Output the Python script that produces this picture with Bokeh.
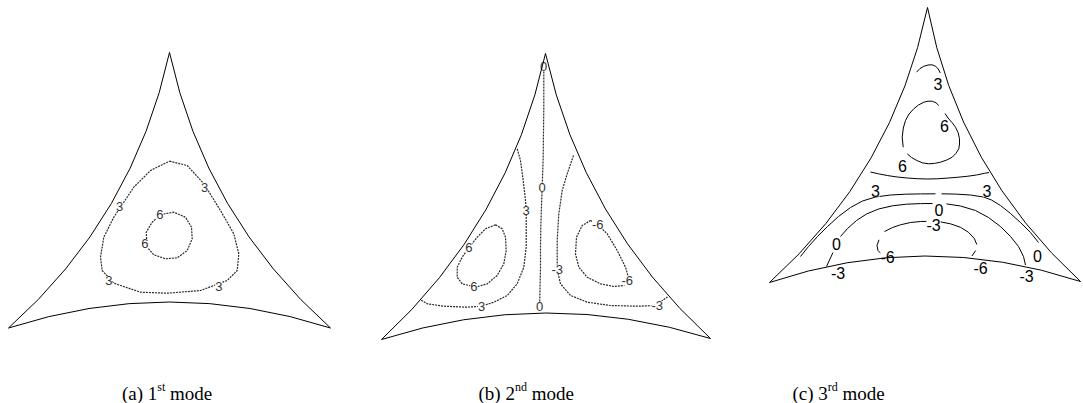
from bokeh.plotting import figure
from bokeh.models import Range1d
from bokeh.core.properties import value
from bokeh.embed import file_html
from bokeh.resources import INLINE

# ---- plate geometry: corners of each curved triangle and the sag of its edges
apex_x = [169, 545, 927]
apex_y = [52, 53, 7]
left_x = [8, 381, 769]
left_y = [327.5, 339, 282]
right_x = [330, 710, 1080]
right_y = [327.5, 338, 281]
edge_sag = [26, 26, 26]

# ---- (a) 1st mode contour lines
a_ring3 = [(169, 160.7), (186.7, 165), (203.3, 183.3), (220, 210), (233.3, 233.3),
           (238.3, 253.3), (236.7, 270), (226.7, 280), (200, 290), (166.7, 292.7),
           (140, 291.7), (113.3, 282.7), (101.7, 270), (100, 256.7), (103.3, 236.7),
           (113.3, 216.7), (133.3, 186.7), (150, 170), (169, 160.7)]
a_ring6 = [(160, 214), (173.3, 211.7), (185, 216.7), (191, 226.7), (191.7, 238.3),
           (186.7, 250), (176.7, 257.3), (165, 258.3), (153.3, 254.3), (146.7, 246.7),
           (145.7, 231.7), (151.7, 221.7), (160, 214)]
a_label_text = ["3", "3", "3", "3", "6", "6"]
a_label_x = [204, 119, 108.3, 218.3, 159.3, 144.3]
a_label_y = [186.7, 205.7, 280, 285.7, 214.3, 243.3]

# ---- (b) 2nd mode contour lines
b_zero = [(543.3, 68), (543.3, 80), (543.3, 106.7), (543, 130), (542.7, 156.7),
          (541.7, 186.7), (541, 205), (540.3, 226.7), (540, 246), (540, 266.7),
          (539.5, 288), (539, 311)]
b_left3 = [(516.7, 148.3), (520, 160), (522.7, 180), (525, 200), (525.7, 210),
           (525.7, 226.7), (525.7, 246.7), (523.3, 266.7), (516.7, 283.3), (506.7, 295),
           (493.3, 301.7), (480.7, 305.7), (466.7, 306.7), (443.3, 305.7), (426.7, 303.3),
           (420.5, 299.5)]
b_left6 = [(495, 224.3), (501.7, 228.3), (505, 236.7), (505.7, 250), (503.3, 263.3),
           (496.7, 275), (486.7, 283.3), (475, 286.7), (461.7, 283.3), (456.7, 276.7),
           (456.7, 266.7), (461.7, 256.7), (468.3, 247.3), (476.7, 236.7), (485, 228.3),
           (495, 224.3)]
b_right3 = [(573, 155), (566.7, 173.3), (561.7, 190), (558.3, 213.3), (556.7, 240),
            (556.7, 269.3), (560, 283.3), (570, 295), (586.7, 301.7), (610, 305),
            (636.7, 305.7), (656.7, 305), (662, 300), (667, 296.5)]
b_right6 = [(590, 220), (597.3, 224.3), (606.7, 233.3), (616.7, 250), (625, 266.7),
            (628.3, 278.3), (623.3, 285), (613.3, 286), (600, 283.3), (586.7, 276.7),
            (578.3, 266.7), (575, 253.3), (576, 236.7), (581.7, 225), (590, 220)]
b_label_text = ["0", "0", "0", "3", "3", "6", "6", "-3", "-3", "-6", "-6"]
b_label_x = [543, 541.7, 539, 525.7, 481, 468.3, 473.3, 556.7, 656.7, 597.3, 626.7]
b_label_y = [66, 186.7, 306, 210, 305.7, 247.3, 286, 269.3, 305, 224.3, 280]

# ---- (c) 3rd mode contour lines (drawn as broken strokes)
c_top3 = [(916, 71.7), (919.5, 68), (923.3, 65.8), (927.5, 64.5), (931.7, 64.3),
          (935.2, 65.8), (937.8, 68.5), (939.8, 72.5)]
c_loop6_upper = [(902.7, 146.7), (901.7, 136.7), (902.8, 127.5), (905, 120), (908.5, 113.5),
                 (913.3, 108.3), (918, 104.5), (923.3, 101.7), (927.5, 100.7), (931.7, 100.7),
                 (935.5, 102.3), (938.3, 105)]
c_loop6_lower = [(944.5, 113), (947.5, 117.5), (951.5, 122), (955, 126.7), (957.7, 132.3),
                 (959, 138.3), (959, 143.5), (958.3, 148.3), (955.5, 152.8), (951.7, 156.7),
                 (946, 159.6), (940, 161.7), (934, 162.9), (928.3, 163.3), (922, 162.4),
                 (916.7, 160.2), (911, 157), (906.7, 153.3)]
c_line6 = [(870, 171.5), (878, 173.3), (886.7, 175), (896.7, 176.5), (906.7, 177.5),
           (916.7, 178.2), (926.7, 178.5), (936.7, 178.3), (946.7, 177.6), (956.7, 176.8),
           (966.7, 175.8), (976, 174.5), (984, 172.8), (988.5, 172)]
c_line3_left = [(800, 256), (808, 246), (817, 236), (827, 226), (838, 216), (850, 207),
                (862, 200.5), (875, 196.5), (890, 194.5), (905, 193.7), (920, 193.4), (935, 193.3)]
c_line3_right = [(941, 193.3), (955, 193.6), (970, 194.5), (983, 196.5), (991, 199.5),
                 (1000, 205), (1010, 213), (1020, 222), (1030, 232), (1038, 242)]
c_line0_corner = [(826, 266), (829, 259.5), (832.5, 252)]
c_line0_left = [(840, 236), (847, 228), (856, 220), (866, 213.5), (878, 208.5), (892, 205.3),
                (906, 203.7), (920, 203.1), (932, 203)]
c_line0_right = [(946, 203.4), (960, 205.5), (975, 210), (988, 217), (1000, 226), (1010, 236),
                 (1018, 246), (1023, 256), (1025, 264.5)]
c_dome_hook = [(882, 254.5), (877.5, 250), (876.5, 245), (878.5, 239.3)]
c_dome = [(884, 231), (892, 227), (900, 224.3), (910, 222), (920, 221), (930, 220.8),
          (940, 221.4), (950, 223.3), (960, 226.8), (968, 231.8), (973.8, 238), (976.3, 244)]
c_dome_tail = [(975.2, 250), (971.5, 255.5)]
c_label_text = ["3", "6", "6", "3", "3", "0", "-3", "0", "0", "-6", "-6", "-3", "-3"]
c_label_x = [937.5, 944, 902, 875, 986.5, 938.5, 933, 836, 1037, 887, 980, 837.5, 1026]
c_label_y = [83, 125, 165.5, 190, 190, 209.5, 224, 243, 255.5, 256, 267.5, 272, 275.5]

# ---- captions: (prefix, superscript, tail) and their left edges
cap_main = ["(a) 1", "(b) 2", "(c) 3"]
cap_sup = ["st", "nd", "rd"]
cap_tail = ["mode", "mode", "mode"]
cap_left = [121.5, 478, 792]


def split_xy(paths):
    return [[q[0] for q in pth] for pth in paths], [[q[1] for q in pth] for pth in paths]


def edge_arcs():
    """Quadratic control points for the three concave edges of each plate."""
    x0, y0, x1, y1, cx, cy = [], [], [], [], [], []
    for i in range(len(apex_x)):
        pts = [(apex_x[i], apex_y[i]), (left_x[i], left_y[i]), (right_x[i], right_y[i])]
        gx = sum(q[0] for q in pts) / 3.0
        gy = sum(q[1] for q in pts) / 3.0
        for k in range(3):
            (ax, ay), (bx, by) = pts[k], pts[(k + 1) % 3]
            mx, my = (ax + bx) / 2.0, (ay + by) / 2.0
            dx, dy = bx - ax, by - ay
            ln = (dx * dx + dy * dy) ** 0.5
            nx, ny = -dy / ln, dx / ln
            if (gx - mx) * nx + (gy - my) * ny < 0:
                nx, ny = -nx, -ny
            x0.append(ax); y0.append(ay); x1.append(bx); y1.append(by)
            cx.append(mx + 2 * edge_sag[i] * nx)
            cy.append(my + 2 * edge_sag[i] * ny)
    return x0, y0, x1, y1, cx, cy


p = figure(width=1083, height=403, x_range=Range1d(0, 1083), y_range=Range1d(403, 0),
           output_backend="svg", toolbar_location=None, min_border=0,
           x_axis_location=None, y_axis_location=None)
p.grid.visible = False
p.outline_line_color = None
p.background_fill_color = "white"
p.border_fill_color = "white"

# dotted contour lines of modes 1 and 2
ab_xs, ab_ys = split_xy([a_ring3, a_ring6, b_zero, b_left3, b_left6, b_right3, b_right6])
p.multi_line(ab_xs, ab_ys, line_color="#2a2a2a", line_width=1.2, line_dash="2 1")

# broken solid contour lines of mode 3
c_xs, c_ys = split_xy([c_top3, c_loop6_upper, c_loop6_lower, c_line6, c_line3_left,
                       c_line3_right, c_line0_corner, c_line0_left, c_line0_right,
                       c_dome_hook, c_dome, c_dome_tail])
p.multi_line(c_xs, c_ys, line_color="black", line_width=1)

# contour level labels
small_lbl = dict(text_font=value("Liberation Sans"), text_font_size="13px",
                 text_align="center", text_baseline="middle", text_color="#333333",
                 background_fill_color="white")
p.text(x=a_label_x, y=a_label_y, text=a_label_text, **small_lbl)
p.text(x=b_label_x, y=b_label_y, text=b_label_text, **small_lbl)
p.text(x=c_label_x, y=c_label_y, text=c_label_text, text_font=value("Liberation Sans"),
       text_font_size="16px", text_align="center", text_baseline="middle",
       text_color="black", background_fill_color="white")

# plate boundaries
ex0, ey0, ex1, ey1, ecx, ecy = edge_arcs()
p.quadratic(x0=ex0, y0=ey0, x1=ex1, y1=ey1, cx=ecx, cy=ecy, line_color="black", line_width=1)

# captions with superscript ordinals
serif = value("Liberation Serif")
main_size, sup_size = 19, 12
main_w = [1.86, 1.916, 1.86]
sup_w = [0.667, 1.0, 0.833]
sup_x = [cap_left[i] + main_w[i] * main_size for i in range(3)]
tail_x = [sup_x[i] + sup_w[i] * sup_size + 0.25 * main_size for i in range(3)]
p.text(x=cap_left, y=[393] * 3, text=cap_main, text_font=serif, text_font_size=f"{main_size}px",
       text_align="left", text_baseline="alphabetic", text_color="black")
p.text(x=sup_x, y=[386] * 3, text=cap_sup, text_font=serif, text_font_size=f"{sup_size}px",
       text_align="left", text_baseline="alphabetic", text_color="black")
p.text(x=tail_x, y=[393] * 3, text=cap_tail, text_font=serif, text_font_size=f"{main_size}px",
       text_align="left", text_baseline="alphabetic", text_color="black")

open("out.html", "w").write(file_html(p, INLINE))
